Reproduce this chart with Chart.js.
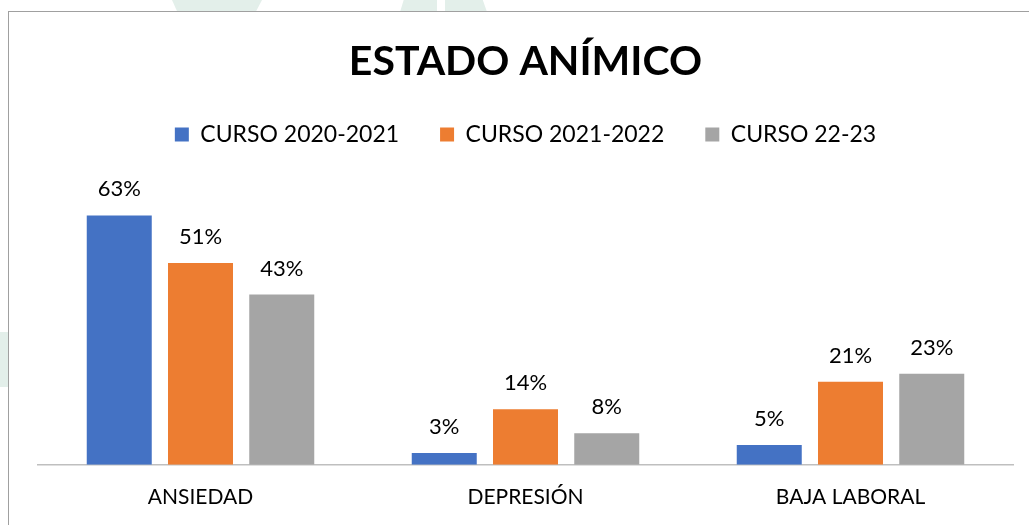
<!DOCTYPE html>
<html>
<head>
<meta charset="utf-8">
<script src="https://cdn.jsdelivr.net/npm/chart.js@4"></script>
<style>
  html, body { margin: 0; padding: 0; background: #ffffff; }
  body { width: 1029px; height: 525px; position: relative; overflow: hidden; }
  .wm { position: absolute; background: #e3efea; }
  #wm1 { left: 172px; top: 0; width: 90px; height: 12px; clip-path: polygon(0 0, 100% 0, 93% 100%, 6% 100%); }
  #wm2 { left: 400px; top: 0; width: 37px; height: 12px; clip-path: polygon(10% 0, 100% 0, 100% 100%, 0 100%); }
  #wm3 { left: 445px; top: 0; width: 42px; height: 12px; clip-path: polygon(0 0, 90% 0, 100% 100%, 0 100%); }
  #wm4 { left: 0; top: 332px; width: 9px; height: 55px; }
  #frame { position: absolute; left: 8px; top: 11px; width: 1040px; height: 540px; border-left: 1.5px solid #a0a0a0; border-top: 1.5px solid #a0a0a0; box-sizing: border-box; background: #ffffff; }
  #wrap { position: absolute; left: 0; top: 0; width: 1029px; height: 525px; }
</style>
</head>
<body>
<div class="wm" id="wm1"></div>
<div class="wm" id="wm2"></div>
<div class="wm" id="wm3"></div>
<div class="wm" id="wm4"></div>
<div id="frame"></div>
<div id="wrap"><canvas id="c" width="1029" height="525"></canvas></div>
<script>
const categories = ['ANSIEDAD', 'DEPRESIÓN', 'BAJA LABORAL'];
const seriesNames = ['CURSO 2020-2021', 'CURSO 2021-2022', 'CURSO 22-23'];
const curso2020 = [63, 3, 5];
const curso2021 = [51, 14, 21];
const curso2223 = [43, 8, 23];
const colors = ['#4472C4', '#ED7D31', '#A5A5A5'];

const FONT = 'Lato, "Open Sans", sans-serif';

const labelPlugin = {
  id: 'barLabels',
  afterDatasetsDraw(chart) {
    const ctx = chart.ctx;
    ctx.save();
    ctx.font = '22px ' + FONT;
    ctx.fillStyle = '#000000';
    ctx.textAlign = 'center';
    ctx.textBaseline = 'middle';
    chart.data.datasets.forEach((ds, i) => {
      const meta = chart.getDatasetMeta(i);
      meta.data.forEach((bar, j) => {
        ctx.fillText(ds.data[j] + '%', bar.x, bar.y - 26);
      });
    });
    ctx.restore();
  }
};

new Chart(document.getElementById('c'), {
  type: 'bar',
  data: {
    labels: categories,
    datasets: [
      { label: seriesNames[0], data: curso2020, backgroundColor: colors[0] },
      { label: seriesNames[1], data: curso2021, backgroundColor: colors[1] },
      { label: seriesNames[2], data: curso2223, backgroundColor: colors[2] }
    ]
  },
  options: {
    responsive: false,
    animation: false,
    devicePixelRatio: 1,
    layout: { padding: { left: 38, right: 16, top: 0, bottom: -5 } },
    datasets: { bar: { categoryPercentage: 0.75, barPercentage: 0.8 } },
    plugins: {
      title: {
        display: true,
        text: 'ESTADO ANÍMICO',
        color: '#000000',
        font: { family: FONT, size: 41, weight: 'bold', lineHeight: 1 },
        padding: { top: 41, bottom: 0 }
      },
      legend: {
        display: true,
        position: 'top',
        labels: {
          color: '#000000',
          font: { family: FONT, size: 23 },
          boxWidth: 14,
          boxHeight: 14,
          padding: 41
        }
      },
      tooltip: { enabled: false }
    },
    scales: {
      x: {
        grid: { display: false, drawTicks: false },
        border: { display: true, color: '#bfbfbf', width: 1.5 },
        ticks: { color: '#000000', font: { family: FONT, size: 21 }, padding: 20 }
      },
      y: {
        display: false,
        min: 0,
        max: 78
      }
    }
  },
  plugins: [labelPlugin]
});
</script>
</body>
</html>
